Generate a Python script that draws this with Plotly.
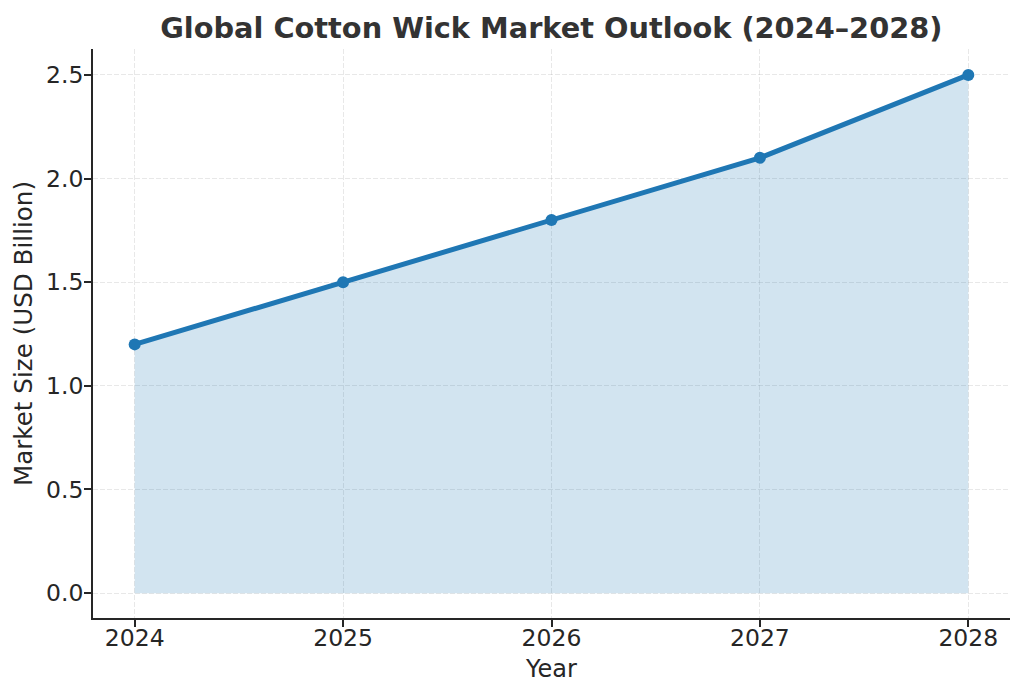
import plotly.graph_objects as go

years = [2024, 2025, 2026, 2027, 2028]
market_size = [1.2, 1.5, 1.8, 2.1, 2.5]
y_ticks = [0.0, 0.5, 1.0, 1.5, 2.0, 2.5]

blue = "#1f77b4"
font = "DejaVu Sans"
text_color = "#262626"

fig = go.Figure()

# shaded area under the line
fig.add_trace(go.Scatter(
    x=years, y=market_size, mode="none", fill="tozeroy",
    fillcolor="rgba(31,119,180,0.2)", hoverinfo="skip",
))
fig.add_trace(go.Scatter(
    x=years, y=market_size, mode="lines+markers",
    line=dict(color=blue, width=5),
    marker=dict(color=blue, size=12),
))

axis_style = dict(
    showline=True, linecolor=text_color, linewidth=1.7, mirror=False,
    ticks="outside", ticklen=7, tickwidth=1.5, tickcolor=text_color,
    showgrid=True, griddash="5px,2px", gridcolor="rgba(128,128,128,0.18)", gridwidth=1.2,
    zeroline=False,
    tickfont=dict(family=font, size=23.5, color=text_color),
)

# the page body has an 8px margin, so the figure is a bit smaller than the window
fig.update_layout(
    width=1008, height=680,
    margin=dict(l=85, r=6, t=41, b=70, autoexpand=False),
    paper_bgcolor="white", plot_bgcolor="white",
    showlegend=False,
    title=dict(
        text="<b>Global Cotton Wick Market Outlook (2024–2028)</b>",
        font=dict(family=font, size=28.8, color="#333333"),
        x=0.539, xanchor="center", y=0.97, yanchor="middle",
    ),
    xaxis=dict(
        axis_style, range=[2023.8, 2028.2], tickvals=years, ticklabelstandoff=-9,
        title=dict(text="Year", font=dict(family=font, size=24, color=text_color), standoff=9),
    ),
    yaxis=dict(
        axis_style, range=[-0.12, 2.625], tickvals=y_ticks, tickformat=".1f", ticklabelstandoff=-4,
        title=dict(text="Market Size (USD Billion)", font=dict(family=font, size=24.6, color=text_color), standoff=6),
    ),
)

fig.write_html("out.html")
